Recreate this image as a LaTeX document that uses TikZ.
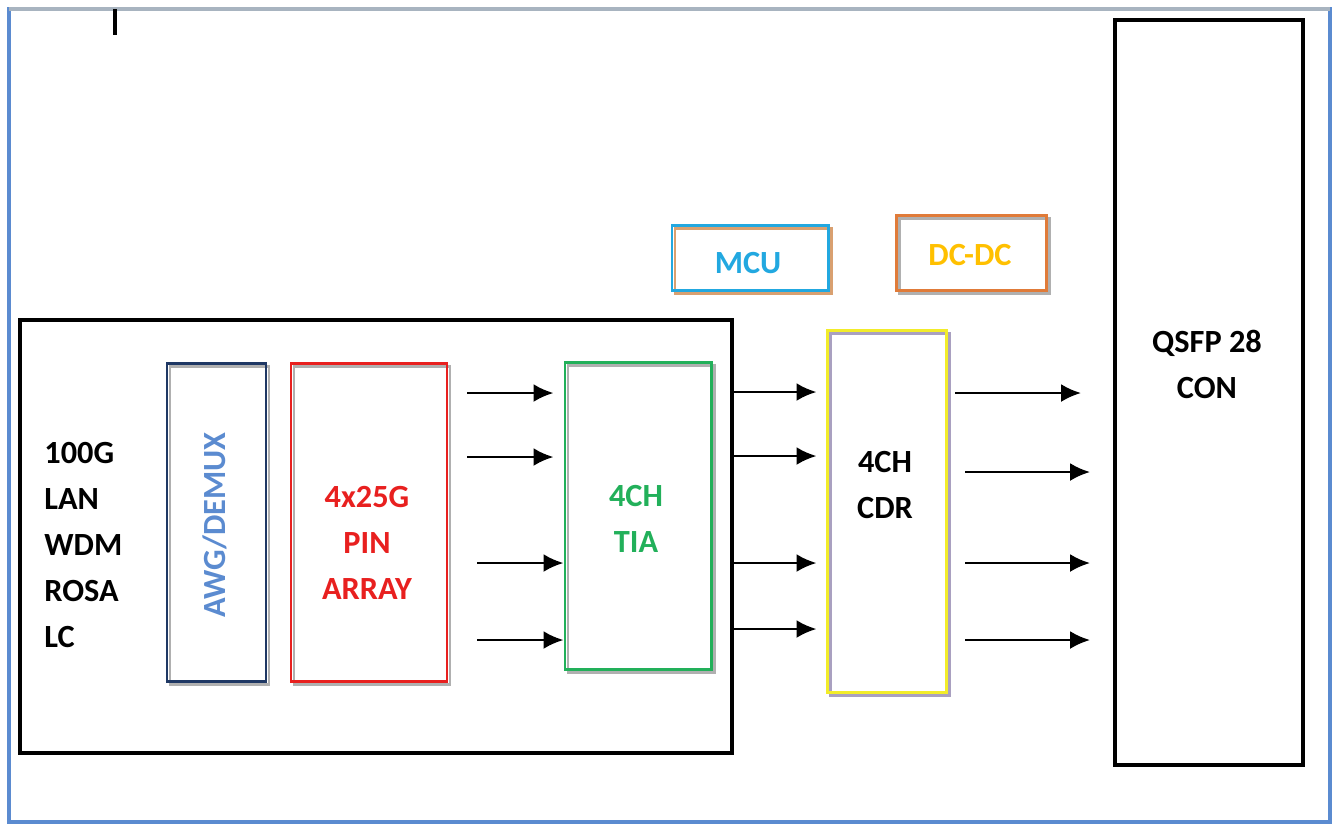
\documentclass[tikz,border=0pt]{standalone}
\usepackage{fontspec}
\setmainfont{Carlito}
\usetikzlibrary{arrows.meta,shadows}

\definecolor{framebl}{HTML}{5B8BD0}
\definecolor{topgray}{HTML}{A8B4C0}
\definecolor{navy}{HTML}{1F3864}
\definecolor{awgblue}{HTML}{5B8BD0}
\definecolor{pinred}{HTML}{E8201F}
\definecolor{tiagreen}{HTML}{22B05A}
\definecolor{cdryellow}{HTML}{F2EC2A}
\definecolor{mcucyan}{HTML}{22A8E0}
\definecolor{dcorange}{HTML}{E07B39}
\definecolor{dcgold}{HTML}{FFC000}
\definecolor{shgray}{HTML}{B0B0B0}
\definecolor{shtan}{HTML}{D9A070}
\definecolor{shlilac}{HTML}{A9A0C0}

\begin{document}
\begin{tikzpicture}[
        every node/.style={font=\bfseries\fontsize{9.2}{13.1}\selectfont},
        bigbox/.style={draw, line width=1.1pt, inner sep=0pt},
        blk/.style 2 args={draw=#1, line width=0.85pt, inner sep=0pt,
            drop shadow={shadow xshift=0.03cm, shadow yshift=-0.03cm,
                fill=none, draw=#2, opacity=1}},
        sig/.style={-{Latex[length=0.2cm,width=0.18cm]}, line width=0.75pt}
    ]

        \useasboundingbox (0,0) rectangle (13.36,-8.27);

        % frame
        \draw[framebl, line width=1.1pt] (0.09,-0.09) rectangle (13.30,-8.22);
        \draw[topgray, line width=1.1pt] (0.09,-0.09) -- (13.30,-0.09);
        \draw[line width=0.9pt] (1.15,-0.09) -- (1.15,-0.35);

        % boxes
        \node[bigbox, minimum width=7.12cm, minimum height=4.33cm] (rosa) at (3.76,-5.365) {};
        \node[bigbox, minimum width=1.88cm, minimum height=7.45cm] (qsfp) at (12.09,-3.925) {};
        \node[blk={navy}{shgray}, minimum width=0.99cm, minimum height=3.18cm] (awg) at (2.165,-5.22) {};
        \node[blk={pinred}{shgray}, minimum width=1.56cm, minimum height=3.18cm] (pin) at (3.69,-5.22) {};
        \node[blk={tiagreen}{shgray}, minimum width=1.46cm, minimum height=3.07cm] (tia) at (6.38,-5.155) {};
        \node[blk={cdryellow}{shlilac}, minimum width=1.19cm, minimum height=3.62cm] (cdr) at (8.865,-5.11) {};
        \node[blk={mcucyan}{shtan}, minimum width=1.56cm, minimum height=0.65cm] (mcu) at (7.50,-2.575) {};
        \node[blk={dcorange}{shgray}, minimum width=1.50cm, minimum height=0.75cm] (dcdc) at (9.71,-2.525) {};

        % labels
        \node[align=left, anchor=west] (rosatxt) at (0.32,-5.45) {100G\\LAN\\WDM\\ROSA\\LC};
        \node[rotate=90, text=awgblue] (awgtxt) at (2.15,-5.25) {AWG/DEMUX};
        \node[align=center, text=pinred] (pintxt) at (3.67,-5.43) {4x25G\\PIN\\ARRAY};
        \node[align=center, text=tiagreen] (tiatxt) at (6.36,-5.19) {4CH\\TIA};
        \node[align=center] (cdrtxt) at (8.85,-4.85) {4CH\\CDR};
        \node[align=center] (qsfptxt) at (12.07,-3.64) {QSFP 28\\CON};
        \node[text=mcucyan] (mcutxt) at (7.48,-2.63) {MCU};
        \node[text=dcgold] (dctxt) at (9.70,-2.55) {DC-DC};

        % channels
        \foreach \y/\x/\s [count=\i] in {3.93/4.67/0.1, 4.57/4.67/0.1, 5.63/4.77/0, 6.40/4.77/0} {
            \coordinate (a\i) at (\x,-\y);
            \draw[sig, shorten >=\s cm] (a\i) -- (tia.west |- a\i);
        }
        \foreach \y [count=\i] in {3.92, 4.56, 5.63, 6.29} {
            \coordinate (b\i) at (rosa.east |- 0,-\y);
            \draw[sig, shorten >=0.09cm] (b\i) -- (cdr.west |- b\i);
        }
        \foreach \y/\x/\s [count=\i] in {3.93/9.55/0.32, 4.72/9.65/0.23, 5.63/9.65/0.23, 6.40/9.65/0.23} {
            \coordinate (c\i) at (\x,-\y);
            \draw[sig, shorten >=\s cm] (c\i) -- (qsfp.west |- c\i);
        }

    \end{tikzpicture}
\end{document}
